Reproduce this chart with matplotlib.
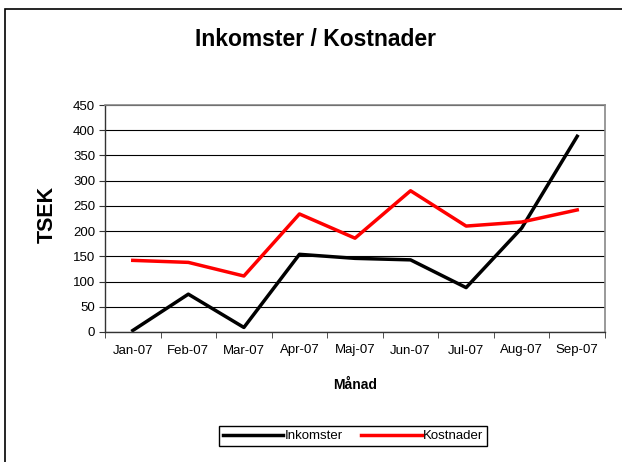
import matplotlib.pyplot as plt
from matplotlib.patches import Rectangle

plt.rcParams['font.family'] = ['Liberation Sans', 'DejaVu Sans']

months = ["Jan-07", "Feb-07", "Mar-07", "Apr-07", "Maj-07", "Jun-07", "Jul-07", "Aug-07", "Sep-07"]
inkomster = [3, 75, 9, 154, 146, 143, 88, 206, 388]
kostnader = [142, 138, 111, 234, 186, 280, 210, 218, 242]

fig = plt.figure(figsize=(6.22, 4.62), dpi=100)
fig.patches.append(Rectangle((5 / 622, -0.1), 1.2, 1 - 9 / 462 + 0.1, transform=fig.transFigure,
                             fill=False, edgecolor="black", linewidth=1.2))

ax = fig.add_axes([105 / 622, 1 - 332 / 462, 500 / 622, 227 / 462])
x = range(len(months))
ax.plot(x, inkomster, color="black", linewidth=2.5, label="Inkomster")
ax.plot(x, kostnader, color="#ff0000", linewidth=2.5, label="Kostnader")

ax.set_xlim(-0.5, len(months) - 0.5)
ax.set_ylim(0, 450)
ax.set_yticks(range(0, 451, 50))
ax.set_xticks(list(x))
ax.set_xticklabels(months, fontsize=9.5)
ax.set_xticks([i - 0.5 for i in range(len(months) + 1)], minor=True)
ax.tick_params(axis="x", which="major", length=0, pad=9)
ax.tick_params(axis="x", which="minor", length=4, direction="out", color="#333333")
ax.tick_params(axis="y", length=4, direction="out", labelsize=9.5, color="#333333", pad=3)
ax.grid(axis="y", color="black", linewidth=0.8)
ax.set_axisbelow(True)

for s in ["top", "right"]:
    ax.spines[s].set_color("#888888")
    ax.spines[s].set_linewidth(1.2)
for s in ["left", "bottom"]:
    ax.spines[s].set_color("#333333")
    ax.spines[s].set_linewidth(1.0)

fig.text(315 / 622, 1 - 40 / 462, "Inkomster / Kostnader", ha="center", va="center",
         fontsize=16.5, fontweight="bold")
fig.text(47 / 622, 1 - 214 / 462, "TSEK", ha="center", va="center", rotation=90,
         fontsize=15.5, fontweight="bold")
fig.text(355 / 622, 1 - 385 / 462, "Månad", ha="center", va="center",
         fontsize=10, fontweight="bold")

fig.legend(loc="center", bbox_to_anchor=(353 / 622, 1 - 436 / 462), ncol=2, fontsize=9.5,
           frameon=True, fancybox=False, edgecolor="black", framealpha=1,
           handlelength=4.6, handletextpad=0.1, columnspacing=1.4, borderpad=0.3)

plt.savefig("out.png", dpi=100)
